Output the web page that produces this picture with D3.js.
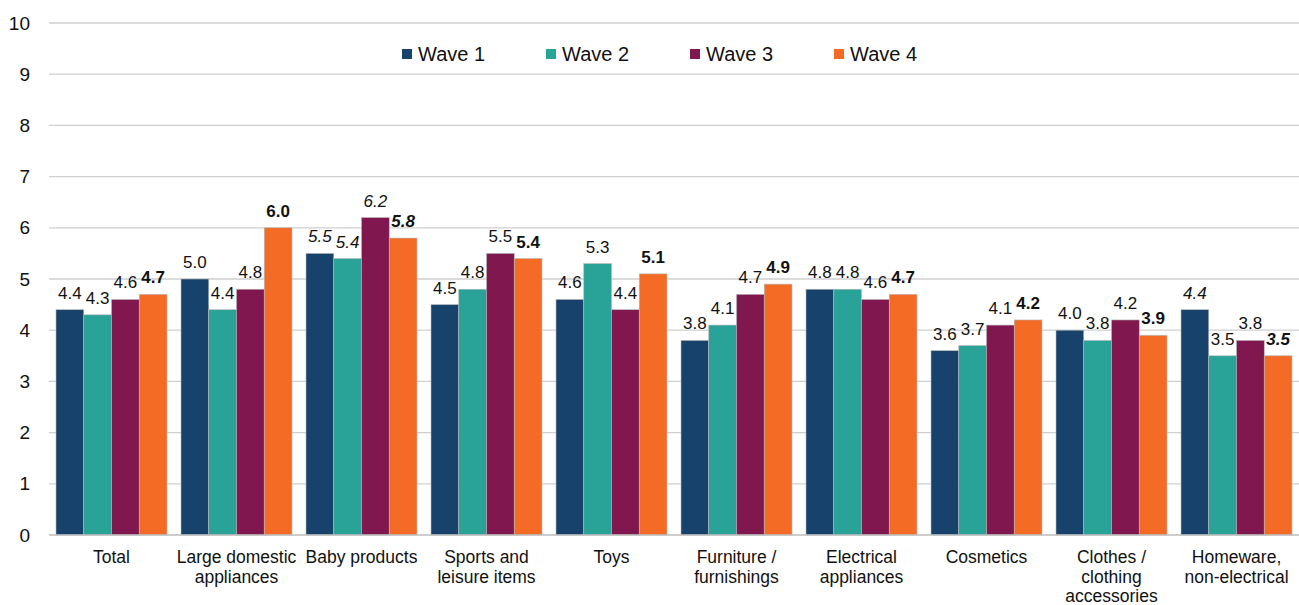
<!DOCTYPE html>
<html>
<head>
<meta charset="utf-8">
<script src="https://cdn.jsdelivr.net/npm/d3@7"></script>
<style>
  html, body { margin: 0; padding: 0; background: #fff; }
  svg { display: block; font-family: "Liberation Sans", Arial, sans-serif; }
</style>
</head>
<body>
<svg id="chart" width="1299" height="605"></svg>
<script>
// Product categories (line breaks with "\n")
const categories = [
  "Total",
  "Large domestic\nappliances",
  "Baby products",
  "Sports and\nleisure items",
  "Toys",
  "Furniture /\nfurnishings",
  "Electrical\nappliances",
  "Cosmetics",
  "Clothes /\nclothing\naccessories",
  "Homeware,\nnon-electrical"
];

const seriesNames = ["Wave 1", "Wave 2", "Wave 3", "Wave 4"];
const seriesColors = ["#16426b", "#29a397", "#80174f", "#f36b25"];

// Values per wave, one entry per category
const wave1 = [4.4, 5.0, 5.5, 4.5, 4.6, 3.8, 4.8, 3.6, 4.0, 4.4];
const wave2 = [4.3, 4.4, 5.4, 4.8, 5.3, 4.1, 4.8, 3.7, 3.8, 3.5];
const wave3 = [4.6, 4.8, 6.2, 5.5, 4.4, 4.7, 4.6, 4.1, 4.2, 3.8];
const wave4 = [4.7, 6.0, 5.8, 5.4, 5.1, 4.9, 4.7, 4.2, 3.9, 3.5];
const seriesValues = [wave1, wave2, wave3, wave4];

// Labels shown in italics: [category index, wave index]
const italicLabels = [[2, 0], [2, 1], [2, 2], [2, 3], [9, 0], [9, 3]];
// Wave shown with bold labels
const boldWave = 3;

const yTicks = [0, 1, 2, 3, 4, 5, 6, 7, 8, 9, 10];

const svg = d3.select("#chart");
const plotLeft = 49, plotRight = 1299, plotTop = 23, plotBottom = 535;

const y = d3.scaleLinear().domain([0, 10]).range([plotBottom, plotTop]);
const x0 = d3.scaleBand().domain(d3.range(categories.length))
  .range([plotLeft, plotRight]).paddingInner(0.112).paddingOuter(0.056);
const x1 = d3.scaleBand().domain(d3.range(seriesNames.length))
  .range([0, x0.bandwidth()]).padding(0);

// Gridlines
svg.append("g").selectAll("line").data(yTicks.filter(d => d > 0)).join("line")
  .attr("x1", plotLeft).attr("x2", plotRight)
  .attr("y1", d => y(d)).attr("y2", d => y(d))
  .attr("stroke", "#cfcfcf").attr("stroke-width", 1.3);

// Y axis labels
const yAxis = d3.axisLeft(y).tickValues(yTicks).tickSize(0).tickPadding(0).tickFormat(d3.format("d"));
const gy = svg.append("g").attr("transform", `translate(30,0)`).call(yAxis);
gy.select(".domain").remove();
gy.selectAll("text").attr("font-size", 19).attr("fill", "#111")
  .attr("font-family", "Liberation Sans, Arial, sans-serif");

// Bars
const italicSet = new Set(italicLabels.map(d => d.join(",")));
const cells = [];
categories.forEach((c, ci) => seriesValues.forEach((vals, si) => cells.push({ ci, si, v: vals[ci] })));

svg.append("g").selectAll("rect").data(cells).join("rect")
  .attr("x", d => x0(d.ci) + x1(d.si))
  .attr("y", d => y(d.v))
  .attr("width", x1.bandwidth())
  .attr("height", d => y(0) - y(d.v))
  .attr("fill", d => seriesColors[d.si])
  .attr("stroke", "#b8b8b8").attr("stroke-width", 0.6);

// Baseline
svg.append("line").attr("x1", plotLeft).attr("x2", plotRight)
  .attr("y1", y(0)).attr("y2", y(0))
  .attr("stroke", "#bdbdbd").attr("stroke-width", 1.6);

// Value labels
svg.append("g").selectAll("text").data(cells).join("text")
  .attr("x", d => x0(d.ci) + x1(d.si) + x1.bandwidth() / 2)
  .attr("y", d => y(d.v) - 11)
  .attr("text-anchor", "middle")
  .attr("font-size", 17)
  .attr("fill", "#111")
  .attr("font-weight", d => d.si === boldWave ? "bold" : "normal")
  .attr("font-style", d => italicSet.has(d.ci + "," + d.si) ? "italic" : "normal")
  .text(d => d3.format(".1f")(d.v));

// Category labels
const xAxis = d3.axisBottom(x0).tickSize(0).tickFormat(() => "");
const gx = svg.append("g").attr("transform", `translate(0,${plotBottom})`).call(xAxis);
gx.select(".domain").remove();
gx.selectAll(".tick").each(function(ci) {
  const t = d3.select(this).append("text")
    .attr("text-anchor", "middle").attr("font-size", 17.5).attr("fill", "#111");
  categories[ci].split("\n").forEach((line, i) => {
    t.append("tspan").attr("x", 0).attr("y", 28 + i * 19.5).text(line);
  });
});

// Legend
const legendX = [402, 546, 690, 834];
const legend = svg.append("g").selectAll("g").data(seriesNames).join("g")
  .attr("transform", (d, i) => `translate(${legendX[i]},54)`);
legend.append("rect").attr("x", 0).attr("y", -5).attr("width", 10).attr("height", 10)
  .attr("fill", (d, i) => seriesColors[i]);
legend.append("text").attr("x", 16).attr("y", 7).attr("font-size", 20).attr("fill", "#111").text(d => d);
</script>
</body>
</html>
